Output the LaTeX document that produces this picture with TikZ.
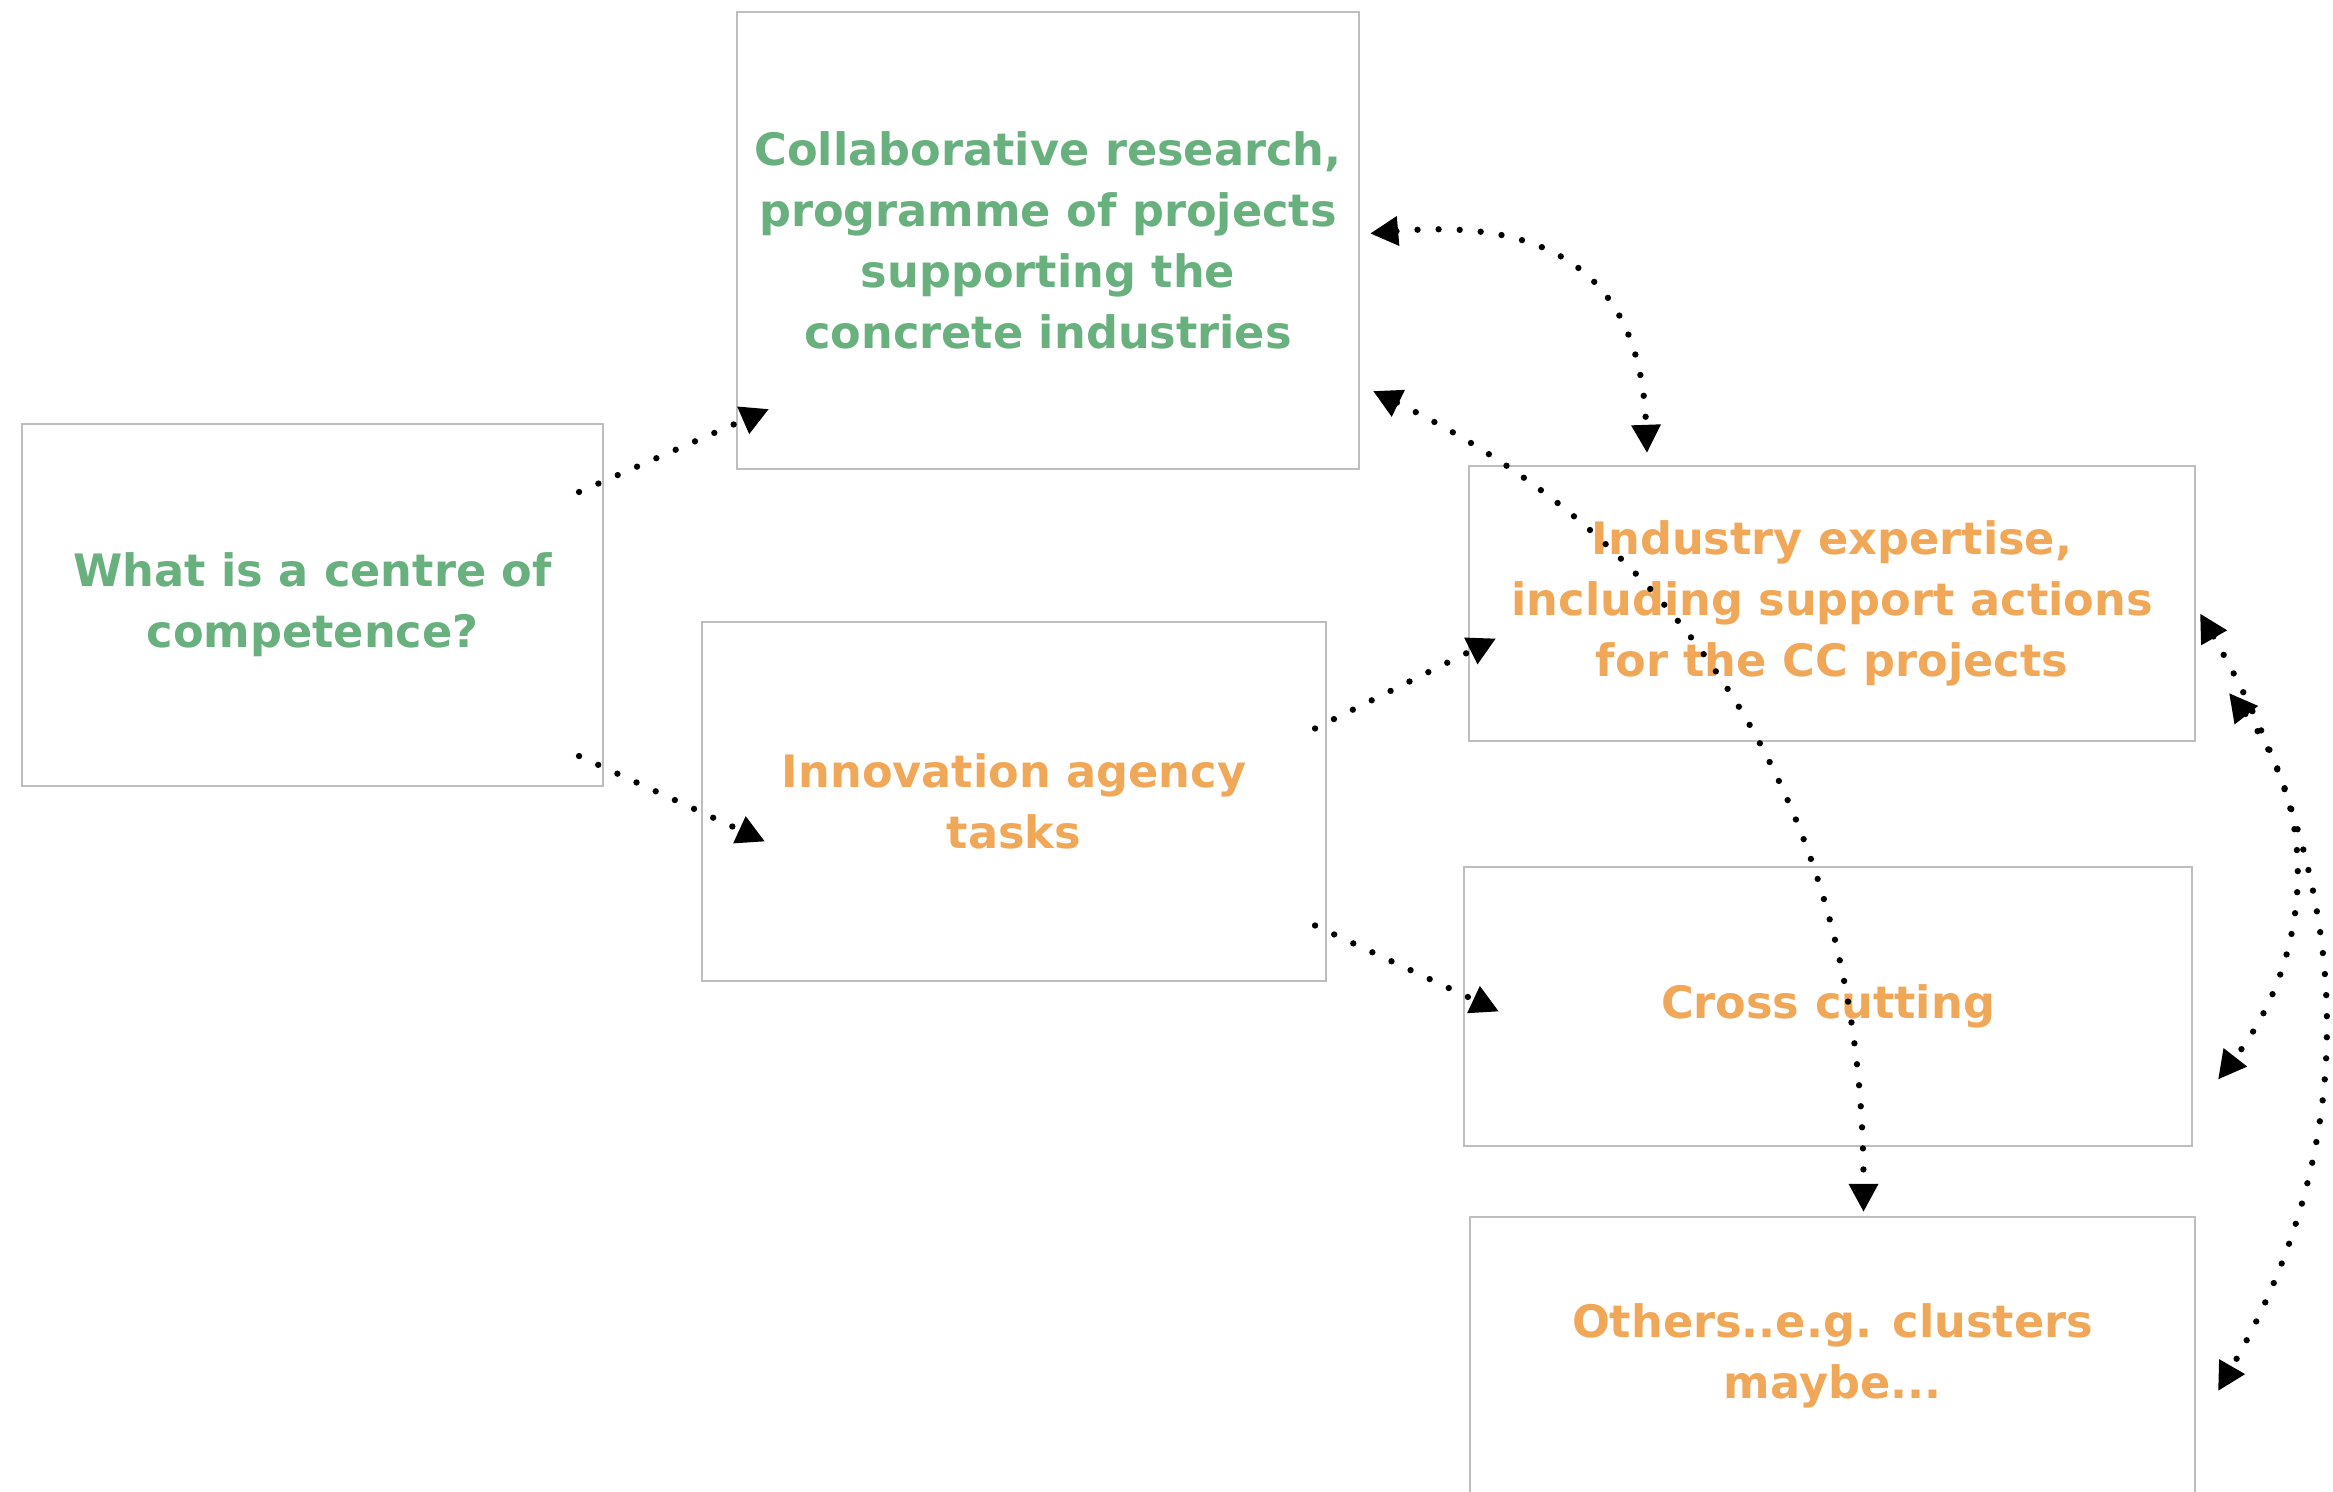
\documentclass[tikz,border=0pt]{standalone}
\usepackage{fontspec}
\setmainfont{DejaVu Sans}
\usetikzlibrary{arrows.meta}
\definecolor{cgreen}{RGB}{104,176,126}
\definecolor{corange}{RGB}{240,168,88}
\definecolor{boxgray}{RGB}{190,190,190}
\begin{document}
\begin{tikzpicture}[x=0.1mm, y=0.1mm, >={Triangle[length=8pt,width=8pt]}]
\tikzstyle{every node}+=[inner sep=0pt]
\tikzstyle{box}=[draw=boxgray, line width=0.6pt, align=center, font=\bfseries\fontsize{12.7}{17.4}\selectfont]
\tikzstyle{link}=[black, line width=1.8pt, line cap=round, dash pattern=on 0pt off 6pt]
\path [use as bounding box, fill=white] (0,0) rectangle (2333,-1492);
\node [box, text=cgreen, minimum width=5.81cm, minimum height=3.62cm] (centre) at (312.5,-605) {What is a centre of\\competence?};
\node [box, text=cgreen, minimum width=6.22cm, minimum height=4.57cm] (collab) at (1048,-240.5) {Collaborative research,\\programme of projects\\supporting the\\concrete industries};
\node [box, text=corange, minimum width=6.24cm, minimum height=3.59cm] (agency) at (1014,-801.5) {Innovation agency\\tasks};
\node [box, text=corange, minimum width=7.26cm, minimum height=2.75cm] (expertise) at (1832,-603.5) {Industry expertise,\\including support actions\\for the CC projects};
\node [box, text=corange, minimum width=7.28cm, minimum height=2.79cm] (cross) at (1828,-1006.5) {Cross cutting};
\node [box, text=corange, minimum width=7.25cm, minimum height=2.78cm] (others) at (1832.5,-1356) {Others..e.g. clusters\\maybe...};
\draw [link, ->] ([xshift=-0.25cm,yshift=1.13cm]centre.east) -- ([xshift=0.33cm,yshift=0.61cm]collab.south west);
\draw [link, ->] ([xshift=-0.25cm,yshift=0.31cm]centre.south east) -- ([xshift=0.64cm,yshift=-0.40cm]agency.west);
\draw [link, ->] ([xshift=-0.12cm,yshift=0.73cm]agency.east) -- ([xshift=0.28cm,yshift=-0.35cm]expertise.west);
\draw [link, ->] ([xshift=-0.12cm,yshift=-1.24cm]agency.east) -- ([xshift=0.36cm,yshift=-0.05cm]cross.west);
\draw [link, <->] ([xshift=0.10cm,yshift=0.07cm]collab.east) to [out=5, in=92, looseness=1.3] ([xshift=-1.85cm,yshift=0.12cm]expertise.north);
\draw [link, <->] ([xshift=0.13cm,yshift=0.79cm]collab.south east) to [out=-26, in=90] ([xshift=0.31cm,yshift=0.04cm]others.north);
\draw [link, <->] ([xshift=0.04cm,yshift=-0.10cm]expertise.east) to [out=-60, in=60] ([xshift=0.22cm,yshift=-0.35cm]others.east);
\draw [link, <->] ([xshift=0.33cm,yshift=0.49cm]expertise.south east) to [out=-52, in=52] ([xshift=0.25cm,yshift=-0.73cm]cross.east);
\end{tikzpicture}
\end{document}
